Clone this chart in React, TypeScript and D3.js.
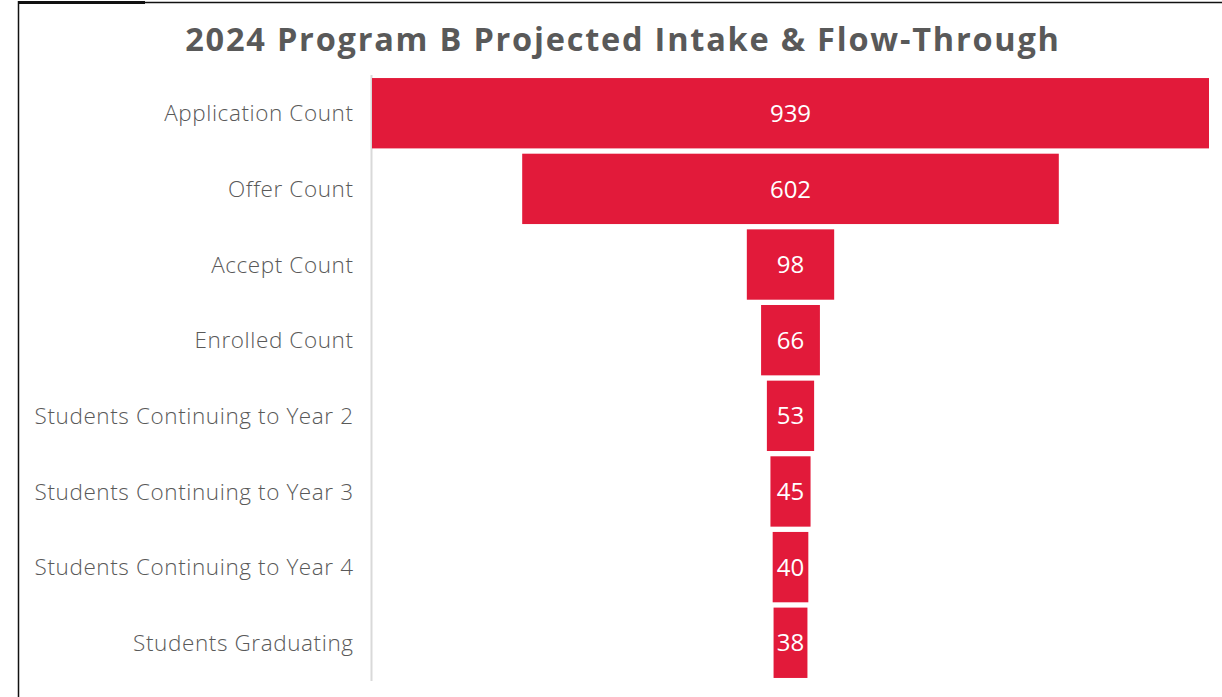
import React from "react";
import * as d3 from "d3";

const categories = [
  "Application Count",
  "Offer Count",
  "Accept Count",
  "Enrolled Count",
  "Students Continuing to Year 2",
  "Students Continuing to Year 3",
  "Students Continuing to Year 4",
  "Students Graduating",
];
const values = [939, 602, 98, 66, 53, 45, 40, 38];
const title = "2024 Program B Projected Intake & Flow-Through";

const W = 1222;
const H = 697;
const FONT = "'Open Sans', Lato, sans-serif";

export default function App() {
  const plotLeft = 372;
  const plotRight = 1209;
  const center = (plotLeft + plotRight) / 2;
  const y = d3
    .scaleBand<string>()
    .domain(categories)
    .range([75.4, 680.6])
    .paddingInner(0.07)
    .paddingOuter(0.035);
  const w = d3
    .scaleLinear()
    .domain([0, d3.max(values) as number])
    .range([0, plotRight - plotLeft]);

  return (
    <svg
      width={W}
      height={H}
      style={{ position: "absolute", left: 0, top: 0, background: "#fff" }}
    >
      <rect x={0} y={0} width={W} height={H} fill="#fff" />
      {/* frame remnants */}
      <rect x={18} y={1} width={127} height={3} fill="#111" />
      <line x1={145} x2={W} y1={2.5} y2={2.5} stroke="#111" strokeWidth={1.5} />
      <line x1={18.5} x2={18.5} y1={1} y2={H} stroke="#111" strokeWidth={1.5} />

      <text
        x={623}
        y={51}
        textAnchor="middle"
        fontFamily={FONT}
        fontWeight={700}
        fontSize={32.5}
        letterSpacing={1.78}
        fill="#595959"
      >
        {title}
      </text>

      {/* axis line */}
      <line
        x1={plotLeft - 0.5}
        x2={plotLeft - 0.5}
        y1={75}
        y2={681}
        stroke="#d9d9d9"
        strokeWidth={2}
      />

      {categories.map((c, i) => {
        const by = y(c) as number;
        const bh = y.bandwidth();
        const bw = w(values[i]);
        return (
          <g key={c}>
            <text
              x={353.6}
              y={by + bh / 2}
              dy="0.36em"
              textAnchor="end"
              fontFamily={FONT}
              fontWeight={300}
              fontSize={22.5}
              letterSpacing={0.6}
              fill="#595959"
            >
              {c}
            </text>
            <rect
              x={center - bw / 2}
              y={by}
              width={bw}
              height={bh}
              fill="#E21A3A"
            />
            <text
              x={center}
              y={by + bh / 2}
              dy="0.36em"
              textAnchor="middle"
              fontFamily={FONT}
              fontSize={24}
              fill="#fff"
            >
              {values[i]}
            </text>
          </g>
        );
      })}
    </svg>
  );
}
